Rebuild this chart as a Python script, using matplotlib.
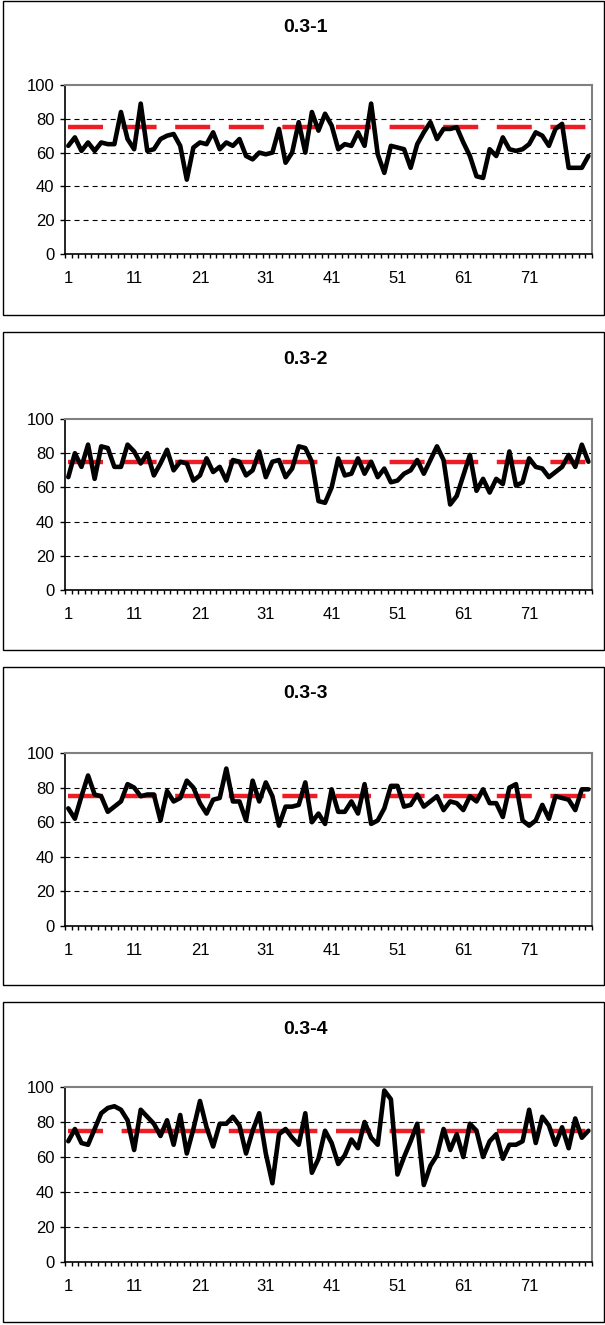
import numpy as np
import matplotlib.pyplot as plt
from matplotlib.patches import Rectangle

plt.rcParams["font.family"] = ["Liberation Sans", "DejaVu Sans"]
plt.rcParams["lines.scale_dashes"] = False

titles = ["0.3-1", "0.3-2", "0.3-3", "0.3-4"]
runs = np.arange(1, 81)

s1 = [64, 69, 61, 66, 61, 66, 65, 65, 84, 68,
      62, 89, 61, 62, 68, 70, 71, 64, 44, 63,
      66, 65, 72, 62, 66, 64, 68, 58, 56, 60,
      59, 60, 74, 54, 60, 78, 60, 84, 73, 83,
      76, 62, 65, 64, 72, 64, 89, 59, 48, 64,
      63, 62, 51, 65, 72, 78, 68, 74, 74, 75,
      66, 58, 46, 45, 62, 58, 69, 62, 61, 62,
      65, 72, 70, 64, 74, 77, 51, 51, 51, 58]
s2 = [66, 80, 72, 85, 65, 84, 83, 72, 72, 85,
      81, 74, 80, 67, 74, 82, 70, 75, 74, 64,
      67, 77, 69, 72, 64, 76, 75, 67, 70, 81,
      66, 75, 76, 66, 71, 84, 83, 75, 52, 51,
      60, 77, 67, 68, 77, 68, 75, 66, 71, 63,
      64, 68, 70, 76, 68, 76, 84, 76, 50, 55,
      67, 79, 58, 65, 57, 65, 62, 81, 61, 63,
      77, 72, 71, 66, 69, 72, 79, 72, 85, 75]
s3 = [68, 62, 75, 87, 76, 75, 66, 69, 72, 82,
      80, 75, 76, 76, 61, 78, 72, 74, 84, 80,
      71, 65, 73, 74, 91, 72, 72, 61, 84, 72,
      83, 75, 58, 69, 69, 70, 83, 60, 65, 59,
      79, 66, 66, 72, 65, 82, 59, 61, 68, 81,
      81, 69, 70, 76, 69, 72, 75, 67, 72, 71,
      67, 75, 72, 79, 71, 71, 63, 80, 82, 61,
      58, 61, 70, 62, 75, 74, 73, 67, 79, 79]
s4 = [69, 76, 68, 67, 76, 85, 88, 89, 87, 81,
      64, 87, 83, 79, 72, 81, 67, 84, 62, 76,
      92, 77, 66, 79, 79, 83, 78, 62, 75, 85,
      62, 45, 73, 76, 71, 67, 85, 51, 59, 75,
      68, 56, 61, 70, 65, 80, 71, 67, 98, 93,
      50, 60, 69, 79, 44, 55, 61, 76, 64, 73,
      60, 79, 75, 60, 69, 73, 59, 67, 67, 69,
      87, 68, 83, 78, 67, 77, 65, 82, 71, 75]
series = [s1, s2, s3, s4]
target = [75] * len(runs)
x_labels = [1, 11, 21, 31, 41, 51, 61, 71]
y_ticks = [0, 20, 40, 60, 80, 100]
grid_levels = [20, 40, 60, 80]

W, H = 605, 1325
fig = plt.figure(figsize=(W / 100, H / 100), dpi=100)

# layout in pixels
box_top = [1, 332, 667, 1002]
box_bot = [315, 650, 985, 1322]
plot_top = [85, 419, 753, 1087]
plot_bot = [254, 590, 926, 1262]
plot_left, plot_right = 65, 591.7

px = 0.72  # points per pixel at 100 dpi
dash_regular = [35 * px, 18.6 * px]
dash_p4 = [v * px for v in [35, 18.6, 88.6, 18.6, 88.6, 18.6, 35, 18.6, 35, 18.6,
                            35, 18.6, 35, 18.6, 35, 18.6, 35, 60]]
red_dashes = [dash_regular, dash_regular, dash_regular, dash_p4]

for i, (title, vals) in enumerate(zip(titles, series)):
    fig.add_artist(Rectangle((3 / W, 1 - box_bot[i] / H), (603.5 - 3) / W,
                             (box_bot[i] - box_top[i]) / H, transform=fig.transFigure,
                             fill=False, ec="black", lw=1.0))
    fig.text(305 / W, 1 - (box_top[i] + 27) / H, title, ha="center", va="center",
             fontsize=14, fontweight="bold")

    ax = fig.add_axes([plot_left / W, 1 - plot_bot[i] / H, (plot_right - plot_left) / W,
                       (plot_bot[i] - plot_top[i]) / H])
    ax.set_xlim(0.5, len(runs) + 0.5)
    ax.set_ylim(0, 100)

    for g in grid_levels:
        ax.axhline(g, color="black", lw=0.8, dashes=(3.6, 2.9), zorder=1)

    ax.plot(runs, target, color="#EE1C24", lw=3.2, dashes=red_dashes[i],
            dash_capstyle="butt", zorder=2)
    ax.plot(runs, vals, color="black", lw=3.3, solid_joinstyle="round",
            solid_capstyle="round", zorder=3)

    ax.set_yticks(y_ticks)
    ax.tick_params(axis="y", direction="out", length=3.5, width=1, labelsize=12, pad=4)
    ax.set_xticks(x_labels)
    ax.set_xticks(np.arange(0.5, len(runs) + 1), minor=True)
    ax.tick_params(axis="x", which="major", length=0, labelsize=12, pad=12)
    ax.tick_params(axis="x", which="minor", direction="out", length=3, width=1)

    for side in ["left", "bottom"]:
        ax.spines[side].set_color("black")
        ax.spines[side].set_linewidth(1.2)
    for side in ["top", "right"]:
        ax.spines[side].set_color("#808080")
        ax.spines[side].set_linewidth(1.5)

plt.savefig("out.png", dpi=100)
plt.close()
